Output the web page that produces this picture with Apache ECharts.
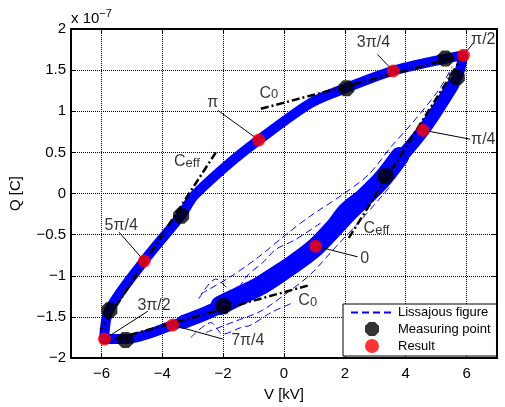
<!DOCTYPE html>
<html>
<head>
<meta charset="utf-8">
<script src="https://cdn.jsdelivr.net/npm/echarts@6/dist/echarts.min.js"></script>
<style>
  html, body { margin: 0; padding: 0; background: #fff; }
  #chart { width: 505px; height: 407px; }
</style>
</head>
<body>
<div id="chart"></div>
<script>
// Q values are in units of 1e-7 C
const vTicks = [-6, -4, -2, 0, 2, 4, 6];

// main loop (band centre)
const loopV = [5.89, 5.30, 3.56, 2.02, 0.88, -0.83, -1.85, -2.96, -3.39, -4.60, -5.75, -5.91, -5.22, -3.65, -2.01, -1.09, 0.22, 1.04, 1.96, 3.33, 4.58, 5.69, 5.89];
const loopQ = [1.68, 1.64, 1.49, 1.28, 1.10, 0.65, 0.35, -0.03, -0.27, -0.82, -1.42, -1.77, -1.77, -1.60, -1.37, -1.13, -0.82, -0.65, -0.18, 0.21, 0.77, 1.41, 1.68];

// wide, noisy lower right branch
const lowV = [-2.10, -1.60, -0.67, 0.22, 1.04, 2.09, 3.17, 3.80];
const lowQ = [-1.36, -1.27, -1.10, -0.88, -0.65, -0.24, 0.15, 0.45];
const lowTaperV = [-3.30, -2.60, -1.90];
const lowTaperQ = [-1.56, -1.46, -1.34];
// thicker right branch
const rightV = [3.17, 4.58, 5.55];
const rightQ = [0.15, 0.77, 1.32];

// loose dashed cycles around the lower branch
const trace1V = [-2.73, -1.75, -0.83, 0.06, 0.88, 1.86, 2.78, 3.50, 4.22, 5.07, 5.53];
const trace1Q = [-1.22, -1.01, -0.77, -0.50, -0.27, -0.03, 0.23, 0.56, 0.86, 1.25, 1.54];
const trace2V = [-2.57, -1.58, -0.76, 0.06, 0.88, 1.70, 2.51, 3.50];
const trace2Q = [-1.69, -1.55, -1.43, -1.22, -0.98, -0.65, -0.33, 0.09];
const trace3V = [-2.80, -2.24, -1.68, -1.16, -0.70, -0.27, 0.38, 1.20];
const trace3Q = [-1.28, -1.04, -1.19, -0.98, -0.84, -0.68, -0.56, -0.36];
const trace4V = [-3.06, -2.40, -2.01, -1.42, -1.09, -0.44, 0.22];
const trace4Q = [-1.75, -1.57, -1.71, -1.63, -1.60, -1.45, -1.34];

const measV = [5.30, 2.05, -3.38, -5.74, -5.21, -1.99, 3.33, 5.68];
const measQ = [1.64, 1.28, -0.27, -1.42, -1.78, -1.37, 0.21, 1.41];

const resV = [1.04, 4.57, 5.90, 3.59, -0.83, -4.59, -5.90, -3.66];
const resQ = [-0.64, 0.77, 1.68, 1.49, 0.65, -0.82, -1.77, -1.60];
const resNames = ['0', 'π/4', 'π/2', '3π/4', 'π', '5π/4', '3π/2', '7π/4'];
const resTextV = [2.65, 6.55, 6.55, 2.94, -2.34, -5.35, -4.27, -1.19];
const resTextQ = [-0.79, 0.66, 1.87, 1.83, 1.10, -0.39, -1.36, -1.79];
const resLineV = [2.42, 6.12, 6.22, 3.07, -2.17, -5.42, -4.47, -2.01];
const resLineQ = [-0.77, 0.66, 1.83, 1.69, 1.01, -0.47, -1.43, -1.77];

// capacitance tangents
const tanNames = ['C0', 'Ceff', 'Ceff', 'C0'];
const tanStartV = [-0.76, -2.24, 2.13, 0.78];
const tanStartQ = [1.03, 0.50, -0.54, -1.12];
const tanEndV = [5.79, -6.03, 5.86, -5.85];
const tanEndQ = [1.67, -1.66, 1.66, -1.80];
const tanTextV = [-0.50, -3.19, 3.04, 0.78];
const tanTextQ = [1.22, 0.39, -0.43, -1.30];

const FONT = "'Liberation Sans', Arial, sans-serif";
const BLUE = '#0000ff';
const OCTAGON = 'path://M-0.414,-1L0.414,-1L1,-0.414L1,0.414L0.414,1L-0.414,1L-1,0.414L-1,-0.414Z';

const zip = (xs, ys) => xs.map((x, i) => [x, ys[i]]);
const minus = v => String(v).replace('-', '\u2212');

const chart = echarts.init(document.getElementById('chart'));

function bandLine(name, xs, ys, width) {
  return {
    name,
    type: 'line',
    data: zip(xs, ys),
    smooth: 0.3,
    symbol: 'none',
    lineStyle: { color: BLUE, width, join: 'round', cap: 'round' },
    z: 1
  };
}

function dashedTrace(xs, ys) {
  return {
    name: 'Lissajous figure',
    type: 'line',
    data: zip(xs, ys),
    smooth: 0.3,
    symbol: 'none',
    lineStyle: { color: BLUE, width: 1, type: [7, 4] },
    z: 2
  };
}

const subRich = {
  a: { fontSize: 16, lineHeight: 16, verticalAlign: 'top', fontFamily: FONT, color: '#000' },
  b: { fontSize: 13, lineHeight: 13, padding: [8, 0, 0, 0], verticalAlign: 'bottom', fontFamily: FONT, color: '#000' }
};

const gridLine = { show: true, lineStyle: { color: '#000', type: 'dotted', width: 1 } };

const option = {
  animation: false,
  grid: { left: 70, right: 8, top: 29, bottom: 41 },
  legend: {
    data: [
      { name: 'Lissajous figure', itemStyle: { opacity: 0 } },
      'Measuring point',
      'Result'
    ],
    orient: 'vertical',
    left: 343,
    top: 304,
    padding: [2, 6, 3, 7],
    itemGap: 3,
    itemWidth: 42,
    itemHeight: 14,
    borderColor: '#000',
    borderWidth: 1,
    borderRadius: 0,
    backgroundColor: '#fff',
    textStyle: { fontFamily: FONT, fontSize: 13, color: '#000' }
  },
  graphic: [
    {
      type: 'text',
      left: 71,
      top: 8,
      style: {
        text: '{a|x 10}{b|\u22127}',
        rich: {
          a: { fontSize: 15, lineHeight: 18, verticalAlign: 'bottom', fontFamily: FONT, fill: '#000' },
          b: { fontSize: 11, lineHeight: 11, verticalAlign: 'top', fontFamily: FONT, fill: '#000' }
        }
      }
    }
  ],
  xAxis: [
    {
      type: 'value',
      min: -7,
      max: 7,
      name: 'V [kV]',
      nameLocation: 'middle',
      nameGap: 29,
      nameTextStyle: { fontFamily: FONT, fontSize: 15, color: '#000' },
      axisLine: { onZero: false, lineStyle: { color: '#000', width: 2 } },
      axisTick: { inside: true, length: 5, customValues: vTicks, lineStyle: { color: '#000' } },
      axisLabel: { customValues: vTicks, margin: 8, fontFamily: FONT, fontSize: 15, color: '#000', formatter: minus },
      splitLine: gridLine
    },
    {
      type: 'value',
      position: 'top',
      min: -7,
      max: 7,
      axisLine: { onZero: false, lineStyle: { color: '#000', width: 2 } },
      axisTick: { inside: true, length: 5, customValues: vTicks, lineStyle: { color: '#000' } },
      axisLabel: { show: false },
      splitLine: { show: false }
    }
  ],
  yAxis: [
    {
      type: 'value',
      min: -2,
      max: 2,
      interval: 0.5,
      name: 'Q [C]',
      nameLocation: 'middle',
      nameGap: 48,
      nameTextStyle: { fontFamily: FONT, fontSize: 15, color: '#000' },
      axisLine: { show: true, onZero: false, lineStyle: { color: '#000', width: 2 } },
      axisTick: { show: true, inside: true, length: 5, lineStyle: { color: '#000' } },
      axisLabel: { margin: 5, fontFamily: FONT, fontSize: 15, color: '#000', formatter: minus },
      splitLine: gridLine
    },
    {
      type: 'value',
      position: 'right',
      min: -2,
      max: 2,
      interval: 0.5,
      axisLine: { show: true, onZero: false, lineStyle: { color: '#000', width: 2 } },
      axisTick: { show: true, inside: true, length: 5, lineStyle: { color: '#000' } },
      axisLabel: { show: false },
      splitLine: { show: false }
    }
  ],
  series: [
    bandLine('band', loopV, loopQ, 10),
    bandLine('bandLow', lowV, lowQ, 19),
    bandLine('bandLowTaper', lowTaperV, lowTaperQ, 14),
    bandLine('bandRight', rightV, rightQ, 13),
    dashedTrace(trace1V, trace1Q),
    dashedTrace(trace2V, trace2Q),
    dashedTrace(trace3V, trace3Q),
    dashedTrace(trace4V, trace4Q),
    {
      name: 'tangents',
      type: 'lines',
      coordinateSystem: 'cartesian2d',
      data: tanStartV.map((v, i) => ({ coords: [[v, tanStartQ[i]], [tanEndV[i], tanEndQ[i]]] })),
      lineStyle: { color: '#000', width: 2.5, type: [8, 3, 2, 3], opacity: 1 },
      z: 5
    },
    {
      name: 'leaders',
      type: 'lines',
      coordinateSystem: 'cartesian2d',
      data: resV.map((v, i) => ({ coords: [[v, resQ[i]], [resLineV[i], resLineQ[i]]] })),
      lineStyle: { color: '#000', width: 1, type: 'solid', opacity: 1 },
      z: 6
    },
    {
      name: 'Measuring point',
      type: 'scatter',
      data: zip(measV, measQ),
      symbol: OCTAGON,
      symbolSize: 16,
      itemStyle: { color: '#000' },
      z: 7
    },
    {
      name: 'Result',
      type: 'scatter',
      data: zip(resV, resQ),
      symbol: 'circle',
      symbolSize: 13,
      itemStyle: { color: '#ff0000' },
      z: 8
    },
    {
      name: 'resultText',
      type: 'scatter',
      symbolSize: 0,
      data: resNames.map((n, i) => ({ value: [resTextV[i], resTextQ[i]], name: n })),
      label: {
        show: true,
        position: 'inside',
        formatter: p => p.name,
        fontFamily: FONT,
        fontSize: 16,
        color: '#000'
      },
      z: 9
    },
    {
      name: 'tangentText',
      type: 'scatter',
      symbolSize: 0,
      data: tanNames.map((n, i) => ({ value: [tanTextV[i], tanTextQ[i]], name: n })),
      label: {
        show: true,
        position: 'inside',
        formatter: p => '{a|C}{b|' + p.name.slice(1) + '}',
        rich: subRich
      },
      z: 9
    }
  ]
};

chart.setOption(option);
</script>
</body>
</html>
